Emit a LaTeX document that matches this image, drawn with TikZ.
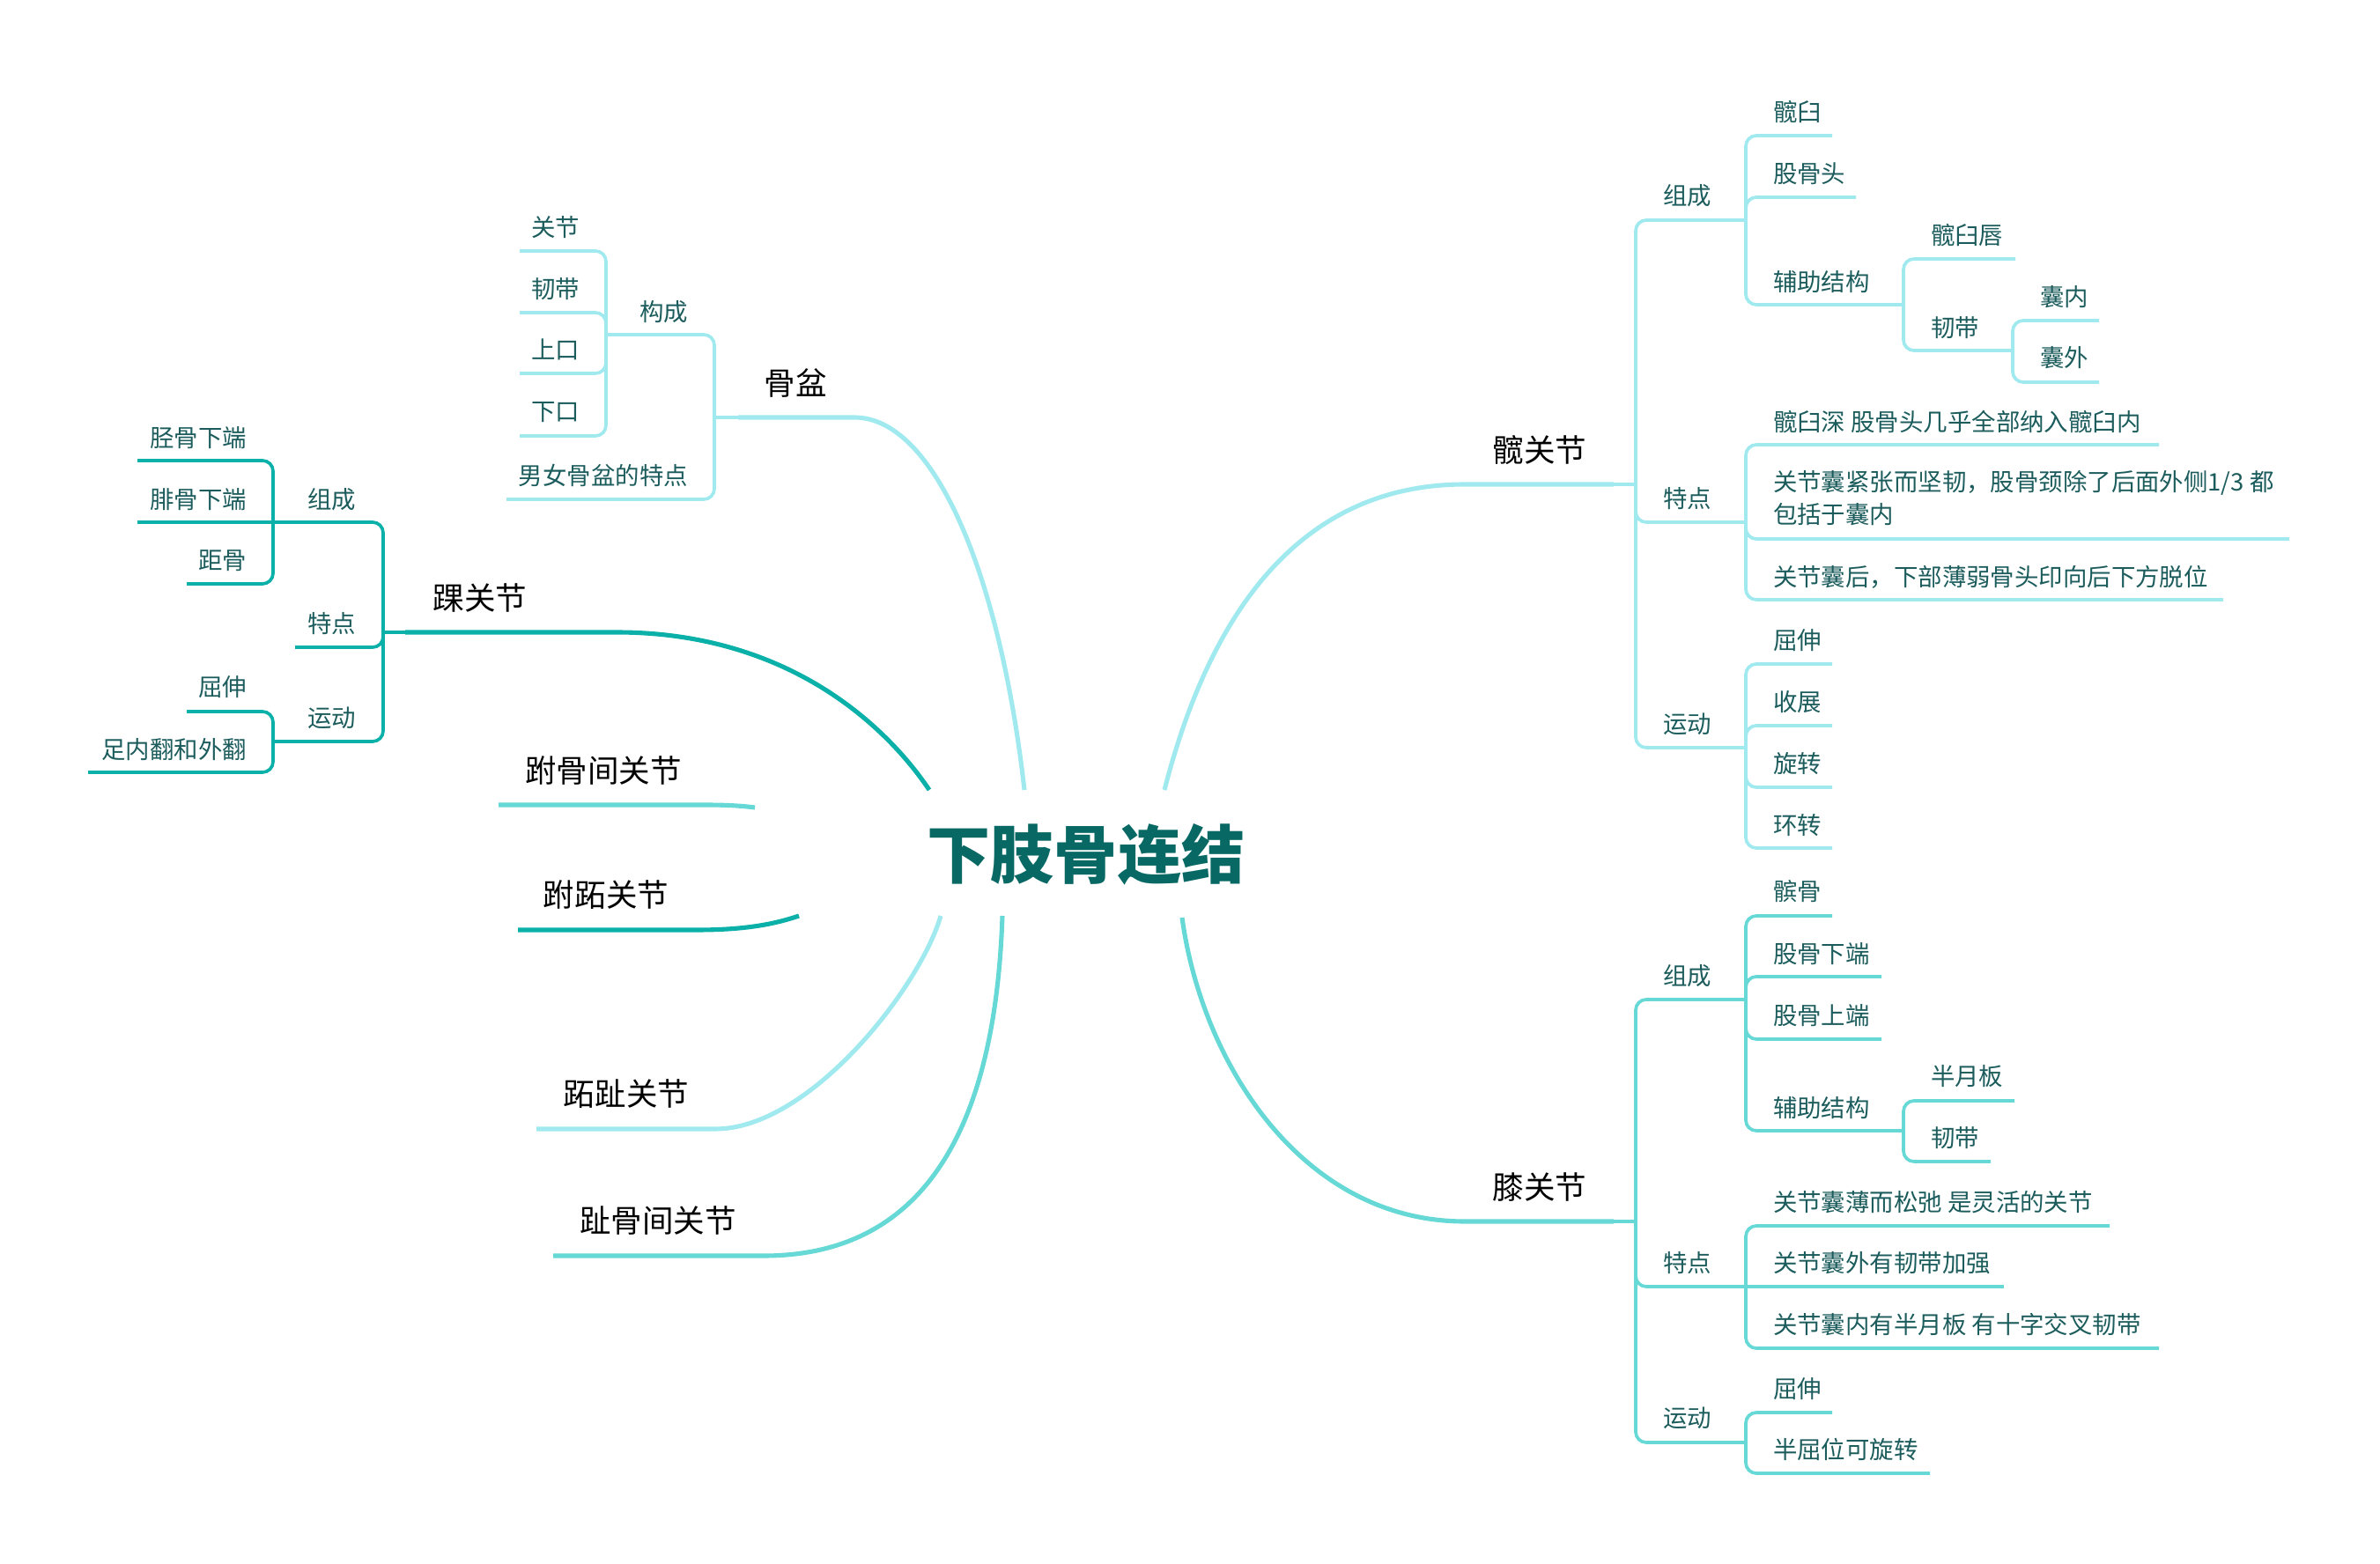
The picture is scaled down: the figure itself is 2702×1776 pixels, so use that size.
\documentclass[tikz,border=0pt]{standalone}
\usepackage{fontspec}
\setmainfont{Noto Sans CJK SC}
\definecolor{cLight}{HTML}{A0EAEF}
\definecolor{cTeal}{HTML}{0BB0A9}
\definecolor{cMed}{HTML}{66D9D6}
\definecolor{subtxt}{HTML}{1C5C5C}
\definecolor{roottxt}{HTML}{076864}
\newcommand\subsz{\fontsize{7.8}{10.5}\selectfont}
\newcommand\mainsz{\fontsize{10.1}{12}\selectfont}
\newcommand\rootsz{\fontsize{20.5}{24}\selectfont\bfseries}
\begin{document}
\begin{tikzpicture}[x=0.01cm,y=-0.01cm,
  every node/.style={inner sep=0pt, outer sep=0pt},
  sub/.style={font=\subsz, text=subtxt},
  rl/.style={sub, anchor=west},
  ll/.style={sub, anchor=east},
  mainlab/.style={font=\mainsz, text=black},
  thickline/.style={line width=1.45pt},
  thinline/.style={line width=1.1pt},
  br/.style={line width=1.05pt, rounded corners=0.12cm}]
\useasboundingbox (0,0) rectangle (2702,1776);

% root
\node[font=\rootsz, text=roottxt] (root) at (1233,970) {下肢骨连结};
\coordinate (rA) at (1055,897);
\coordinate (rB) at (1163,897);
\coordinate (rC) at (1322,897);
\coordinate (rD) at (1068,1040);
\coordinate (rE) at (1138,1040);
\coordinate (rF) at (1342,1042);

% main branch connectors
\coordinate (gpJ) at (811,474);
\coordinate (hjJ) at (435,718);
\coordinate (kgJ) at (1857,550);
\coordinate (xgJ) at (1857,1387);
\draw[thickline,cLight] (rB) .. controls (1135,650) and (1060,474) .. (970,474) -- (838,474);
\draw[thinline,cLight] (838,474) -- (gpJ);
\draw[thickline,cTeal] (rA) .. controls (1010,830) and (900,718) .. (700,718) -- (460,718);
\draw[thinline,cTeal] (460,718) -- (hjJ);
\draw[thickline,cLight] (rC) .. controls (1375,690) and (1480,550) .. (1663,550) -- (1832,550);
\draw[thinline,cLight] (1832,550) -- (kgJ);
\draw[thickline,cMed] (rF) .. controls (1365,1210) and (1480,1387) .. (1663,1387) -- (1832,1387);
\draw[thinline,cMed] (1832,1387) -- (xgJ);
\draw[thickline,cLight] (rD) .. controls (1045,1120) and (920,1282) .. (812,1282) -- (609,1282);
\draw[thickline,cMed] (rE) .. controls (1130,1280) and (1050,1426) .. (867,1426) -- (628,1426);
\draw[thickline,cMed] (566,914) -- (800,914) .. controls (825,914) and (842,915) .. (857,917);
\draw[thickline,cTeal] (588,1056) -- (790,1056) .. controls (835,1056) and (872,1052) .. (907,1040);

% main labels
\node[mainlab] (gp) at (903,435) {骨盆};
\node[mainlab] (hj) at (545,679) {踝关节};
\node[mainlab] (fgj) at (685,875) {跗骨间关节};
\node[mainlab] (fz) at (688,1016) {跗跖关节};
\node[mainlab] (zz) at (711,1242) {跖趾关节};
\node[mainlab] (zg) at (747,1386) {趾骨间关节};
\node[mainlab] (kg) at (1748,511) {髋关节};
\node[mainlab] (xg) at (1748,1348) {膝关节};

% ---- 骨盆
\coordinate (gpA) at (688,380);
\draw[br,cLight] (gpJ) |- (gpA);
\draw[br,cLight] (gpJ) |- (575,567);
\draw[br,cLight] (gpA) |- (590,285);
\draw[br,cLight] (gpA) |- (590,355);
\draw[br,cLight] (gpA) |- (590,424);
\draw[br,cLight] (gpA) |- (590,495);
\node[ll] (gpa) at (781,354) {构成};
\node[ll] (gpb) at (781,540) {男女骨盆的特点};
\node[ll] (gpa1) at (658,258) {关节};
\node[ll] (gpa2) at (658,328) {韧带};
\node[ll] (gpa3) at (658,397) {上口};
\node[ll] (gpa4) at (658,468) {下口};

% ---- 踝关节
\coordinate (hjA) at (310,593);
\coordinate (hjC) at (310,842);
\draw[br,cTeal] (hjJ) |- (hjA);
\draw[br,cTeal] (hjJ) |- (335,735);
\draw[br,cTeal] (hjJ) |- (hjC);
\draw[br,cTeal] (hjA) |- (156,523);
\draw[br,cTeal] (hjA) -- (156,593);
\draw[br,cTeal] (hjA) |- (212,663);
\draw[br,cTeal] (hjC) |- (212,808);
\draw[br,cTeal] (hjC) |- (100,877);
\node[ll] (hja) at (404,567) {组成};
\node[ll] (hjb) at (404,708) {特点};
\node[ll] (hjc) at (404,815) {运动};
\node[ll] (hja1) at (280,497) {胫骨下端};
\node[ll] (hja2) at (280,567) {腓骨下端};
\node[ll] (hja3) at (280,637) {距骨};
\node[ll] (hjc1) at (280,780) {屈伸};
\node[ll] (hjc2) at (280,851) {足内翻和外翻};

% ---- 髋关节
\coordinate (kgA) at (1982,250);
\coordinate (kgB) at (1982,593);
\coordinate (kgC) at (1982,849);
\coordinate (kgA3) at (2161,346);
\coordinate (kgA32) at (2285,398);
\draw[br,cLight] (kgJ) |- (kgA);
\draw[br,cLight] (kgJ) |- (kgB);
\draw[br,cLight] (kgJ) |- (kgC);
\draw[br,cLight] (kgA) |- (2080,154);
\draw[br,cLight] (kgA) |- (2107,224);
\draw[br,cLight] (kgA) |- (kgA3);
\draw[br,cLight] (kgA3) |- (2288,294);
\draw[br,cLight] (kgA3) |- (kgA32);
\draw[br,cLight] (kgA32) |- (2383,364);
\draw[br,cLight] (kgA32) |- (2383,434);
\draw[br,cLight] (kgB) |- (2451,505);
\draw[br,cLight] (kgB) |- (2599,612);
\draw[br,cLight] (kgB) |- (2524,681);
\draw[br,cLight] (kgC) |- (2080,754);
\draw[br,cLight] (kgC) |- (2080,824);
\draw[br,cLight] (kgC) |- (2080,894);
\draw[br,cLight] (kgC) |- (2080,963);
\node[rl] (kga) at (1888,222) {组成};
\node[rl] (kgb) at (1888,566) {特点};
\node[rl] (kgc) at (1888,822) {运动};
\node[rl] (kga1) at (2013,127) {髋臼};
\node[rl] (kga2) at (2013,197) {股骨头};
\node[rl] (kga3) at (2013,320) {辅助结构};
\node[rl] (kga31) at (2192,267) {髋臼唇};
\node[rl] (kga32) at (2192,372) {韧带};
\node[rl] (kga321) at (2316,337) {囊内};
\node[rl] (kga322) at (2316,406) {囊外};
\node[rl] (kgb1) at (2013,479) {髋臼深 股骨头几乎全部纳入髋臼内};
\node[rl, align=left] (kgb2) at (2013,566) {关节囊紧张而坚韧，股骨颈除了后面外侧1/3 都\\包括于囊内};
\node[rl] (kgb3) at (2013,655) {关节囊后，下部薄弱骨头印向后下方脱位};
\node[rl] (kgc1) at (2013,727) {屈伸};
\node[rl] (kgc2) at (2013,797) {收展};
\node[rl] (kgc3) at (2013,867) {旋转};
\node[rl] (kgc4) at (2013,937) {环转};

% ---- 膝关节
\coordinate (xgA) at (1982,1135);
\coordinate (xgB) at (1982,1461);
\coordinate (xgC) at (1982,1638);
\coordinate (xgA4) at (2161,1284);
\draw[br,cMed] (xgJ) |- (xgA);
\draw[br,cMed] (xgJ) |- (xgB);
\draw[br,cMed] (xgJ) |- (xgC);
\draw[br,cMed] (xgA) |- (2080,1040);
\draw[br,cMed] (xgA) |- (2136,1109);
\draw[br,cMed] (xgA) |- (2136,1180);
\draw[br,cMed] (xgA) |- (xgA4);
\draw[br,cMed] (xgA4) |- (2287,1250);
\draw[br,cMed] (xgA4) |- (2260,1319);
\draw[br,cMed] (xgB) |- (2395,1392);
\draw[br,cMed] (xgB) -- (2275,1461);
\draw[br,cMed] (xgB) |- (2451,1531);
\draw[br,cMed] (xgC) |- (2080,1604);
\draw[br,cMed] (xgC) |- (2191,1673);
\node[rl] (xga) at (1888,1108) {组成};
\node[rl] (xgb) at (1888,1434) {特点};
\node[rl] (xgc) at (1888,1610) {运动};
\node[rl] (xga1) at (2013,1012) {髌骨};
\node[rl] (xga2) at (2013,1083) {股骨下端};
\node[rl] (xga3) at (2013,1153) {股骨上端};
\node[rl] (xga4) at (2013,1258) {辅助结构};
\node[rl] (xga41) at (2192,1222) {半月板};
\node[rl] (xga42) at (2192,1292) {韧带};
\node[rl] (xgb1) at (2013,1365) {关节囊薄而松弛 是灵活的关节};
\node[rl] (xgb2) at (2013,1434) {关节囊外有韧带加强};
\node[rl] (xgb3) at (2013,1504) {关节囊内有半月板 有十字交叉韧带};
\node[rl] (xgc1) at (2013,1577) {屈伸};
\node[rl] (xgc2) at (2013,1646) {半屈位可旋转};
\end{tikzpicture}
\end{document}
